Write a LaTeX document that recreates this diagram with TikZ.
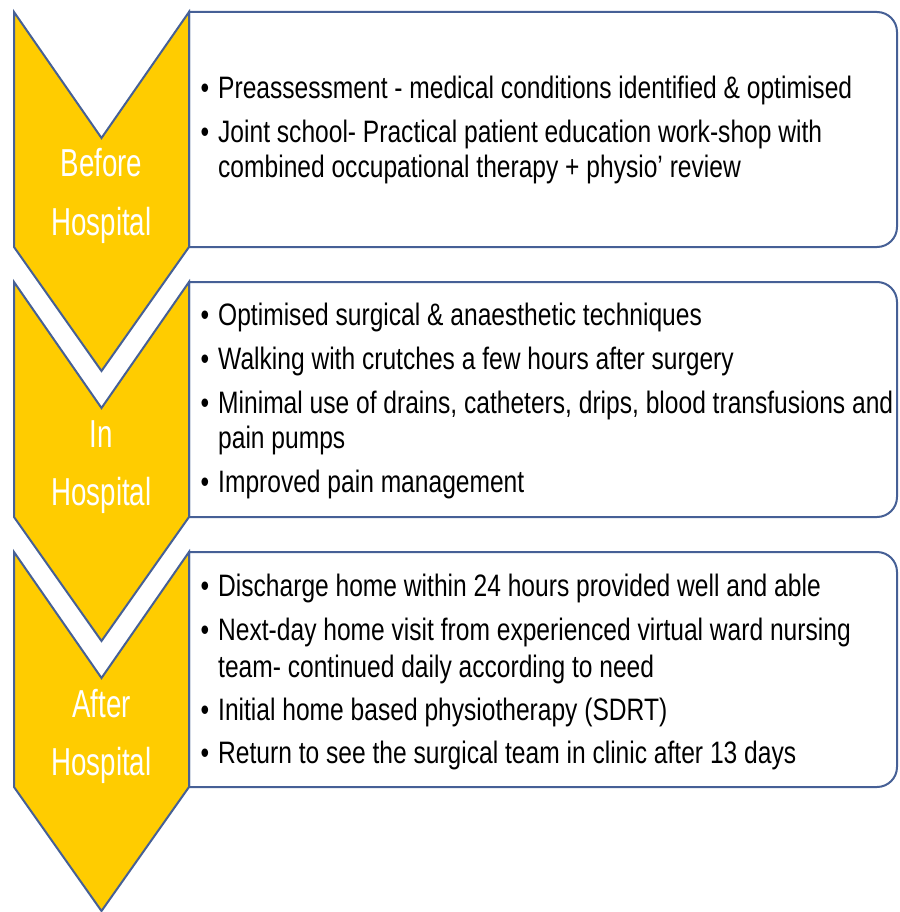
\documentclass[tikz,border=0pt]{standalone}
\usepackage{fontspec}
\setmainfont[FakeStretch=0.793]{Liberation Sans}
\newfontfamily\labfont[FakeStretch=0.71]{Liberation Sans}
\definecolor{chevfill}{HTML}{FFCC00}
\definecolor{edgeblue}{RGB}{70,96,150}
\tikzset{
  chev/.style={fill=chevfill, draw=edgeblue, line width=2pt, line join=miter},
  panel/.style={fill=white, draw=edgeblue, line width=2pt},
  bodytext/.style={anchor=base west, inner sep=0pt, font=\fontsize{31}{35}\selectfont, text=black},
  bul/.style={anchor=base west, inner sep=0pt, font=\fontsize{31}{35}\selectfont, text=black},
  lab/.style={anchor=base, inner sep=0pt, font=\labfont\fontsize{39}{45}\selectfont, text=white}
}
\begin{document}
\begin{tikzpicture}[x=1pt,y=-1pt]
\useasboundingbox (0,0) rectangle (899,912);
% panels
\foreach \t in {12,282,552}{
  \draw[panel] (189,\t) [rounded corners=20pt] -- (897,\t) -- (897,\t+235) [sharp corners] -- (189,\t+235) -- cycle;
}
% chevrons
\foreach \t in {12,282,552}{
  \draw[chev] (14,\t) -- (101.5,\t+126) -- (189,\t) -- (189,\t+235) -- (101.5,\t+359) -- (14,\t+235) -- cycle;
}
% labels
\node[lab] (l1a) at (101.5,177) {Before};
\node[lab] (l1b) at (101.5,235) {Hospital};
\node[lab] (l2a) at (101.5,447) {In};
\node[lab] (l2b) at (101.5,505) {Hospital};
\node[lab] (l3a) at (101.5,717) {After};
\node[lab] (l3b) at (101.5,775) {Hospital};
% box 1
\node[bul] (b11) at (200.5,99) {•};
\node[bodytext] (t11) at (218,99) {Preassessment - medical conditions identified \& optimised};
\node[bul] (b12) at (200.5,143) {•};
\node[bodytext] (t12) at (218,143) {Joint school- Practical patient education work-shop with};
\node[bodytext] (t13) at (218,178) {combined occupational therapy + physio’ review};
% box 2
\node[bul] (b21) at (200.5,325) {•};
\node[bodytext] (t21) at (218,325) {Optimised surgical \& anaesthetic techniques};
\node[bul] (b22) at (200.5,369) {•};
\node[bodytext] (t22) at (218,369) {Walking with crutches a few hours after surgery};
\node[bul] (b23) at (200.5,413) {•};
\node[bodytext] (t23) at (218,413) {Minimal use of drains, catheters, drips, blood transfusions and};
\node[bodytext] (t24) at (218,448) {pain pumps};
\node[bul] (b25) at (200.5,492) {•};
\node[bodytext] (t25) at (218,492) {Improved pain management};
% box 3
\node[bul] (b31) at (200.5,596) {•};
\node[bodytext] (t31) at (218,596) {Discharge home within 24 hours provided well and able};
\node[bul] (b32) at (200.5,640) {•};
\node[bodytext] (t32) at (218,640) {Next-day home visit from experienced virtual ward nursing};
\node[bodytext] (t33) at (218,677) {team- continued daily according to need};
\node[bul] (b34) at (200.5,720) {•};
\node[bodytext] (t34) at (218,720) {Initial home based physiotherapy (SDRT)};
\node[bul] (b35) at (200.5,763) {•};
\node[bodytext] (t35) at (218,763) {Return to see the surgical team in clinic after 13 days};
\end{tikzpicture}
\end{document}
